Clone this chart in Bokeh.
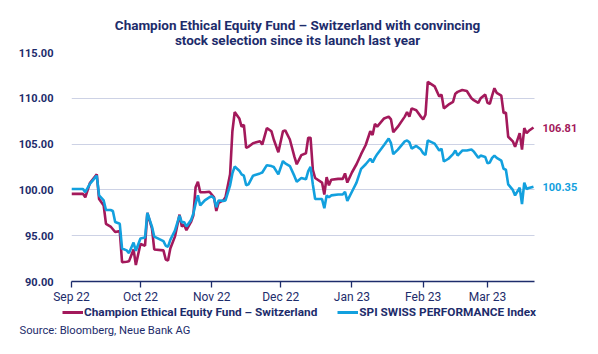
from datetime import datetime
import pandas as pd
from bokeh.plotting import figure
from bokeh.layouts import column
from bokeh.models import (Legend, LegendItem, Label, FixedTicker, DatetimeTickFormatter,
                          Range1d, NumeralTickFormatter, ColumnDataSource)
from bokeh.embed import file_html
from bokeh.resources import INLINE

dates = [
    "2022-09-01", "2022-09-06", "2022-09-07", "2022-09-09", "2022-09-12", "2022-09-13", "2022-09-15",
    "2022-09-16", "2022-09-18", "2022-09-19", "2022-09-20", "2022-09-22", "2022-09-23", "2022-09-25",
    "2022-09-26", "2022-09-28", "2022-09-29", "2022-10-01", "2022-10-03", "2022-10-04", "2022-10-06",
    "2022-10-07", "2022-10-11", "2022-10-12", "2022-10-13", "2022-10-14", "2022-10-16", "2022-10-18",
    "2022-10-19", "2022-10-20", "2022-10-21", "2022-10-23", "2022-10-24", "2022-10-25", "2022-10-26",
    "2022-10-27", "2022-10-29", "2022-10-31", "2022-11-01", "2022-11-02", "2022-11-03", "2022-11-04",
    "2022-11-06", "2022-11-07", "2022-11-09", "2022-11-10", "2022-11-11", "2022-11-13", "2022-11-14",
    "2022-11-15", "2022-11-16", "2022-11-17", "2022-11-19", "2022-11-22", "2022-11-23", "2022-11-25",
    "2022-11-27", "2022-11-28", "2022-11-30", "2022-12-02", "2022-12-03", "2022-12-05", "2022-12-07",
    "2022-12-08", "2022-12-10", "2022-12-12", "2022-12-13", "2022-12-14", "2022-12-15", "2022-12-16",
    "2022-12-19", "2022-12-20", "2022-12-21", "2022-12-22", "2022-12-23", "2022-12-26", "2022-12-28",
    "2022-12-29", "2022-12-30", "2023-01-01", "2023-01-03", "2023-01-05", "2023-01-07", "2023-01-09",
    "2023-01-10", "2023-01-11", "2023-01-12", "2023-01-15", "2023-01-17", "2023-01-18", "2023-01-19",
    "2023-01-21", "2023-01-24", "2023-01-25", "2023-01-26", "2023-01-27", "2023-01-29", "2023-01-31",
    "2023-02-01", "2023-02-02", "2023-02-03", "2023-02-06", "2023-02-08", "2023-02-09", "2023-02-10",
    "2023-02-12", "2023-02-14", "2023-02-15", "2023-02-16", "2023-02-18", "2023-02-20", "2023-02-22",
    "2023-02-23", "2023-02-25", "2023-02-26", "2023-02-28", "2023-03-01", "2023-03-02", "2023-03-03",
    "2023-03-04", "2023-03-05", "2023-03-07", "2023-03-08", "2023-03-09", "2023-03-10", "2023-03-12",
    "2023-03-13", "2023-03-15", "2023-03-16", "2023-03-17", "2023-03-18", "2023-03-19", "2023-03-21",
]

fund = [
    99.57, 99.57, 99.2, 100.75, 101.7, 99.0, 98.3,
    96.3, 96.0, 95.7, 95.4, 95.5, 92.1, 92.15,
    92.2, 93.5, 91.8, 94.1, 93.9, 97.5, 95.8,
    93.5, 93.4, 92.4, 92.3, 93.6, 94.9, 97.3,
    96.0, 96.2, 95.6, 96.5, 97.2, 100.3, 100.9,
    99.75, 99.75, 99.8, 99.5, 99.2, 97.7, 98.6,
    98.85, 99.2, 101.7, 106.4, 108.5, 107.8, 106.9,
    107.1, 104.6, 104.7, 105.1, 105.3, 104.95, 106.75,
    106.4, 105.5, 104.1, 106.4, 106.5, 105.5, 103.6,
    102.8, 103.8, 104.0, 105.7, 105.7, 102.2, 101.3,
    100.8, 99.5, 101.4, 100.5, 101.1, 101.2, 101.2,
    101.8, 100.8, 101.9, 102.8, 103.9, 104.9, 106.4,
    106.0, 107.2, 106.9, 107.8, 108.0, 107.7, 106.3,
    106.9, 108.0, 108.5, 108.0, 108.9, 108.7, 108.0,
    107.7, 108.2, 111.8, 111.3, 110.2, 110.4, 108.9,
    109.3, 109.6, 110.5, 110.7, 110.9, 110.8, 110.0,
    109.8, 109.5, 110.0, 110.4, 109.5, 109.4, 110.3,
    111.1, 110.6, 110.3, 108.4, 108.45, 105.8, 105.3,
    104.7, 106.2, 104.4, 106.75, 106.2, 106.45, 106.81,
]

index = [
    100.1, 100.1, 99.75, 100.65, 101.55, 99.4, 98.85,
    97.8, 97.8, 97.7, 96.5, 96.3, 93.6, 93.4,
    93.1, 94.25, 93.35, 94.7, 94.8, 97.5, 96.0,
    94.9, 94.4, 93.9, 93.8, 94.55, 95.55, 97.2,
    96.45, 96.5, 96.0, 96.7, 97.4, 98.5, 99.4,
    98.3, 98.85, 99.2, 99.3, 99.1, 98.1, 98.85,
    98.8, 98.85, 100.5, 101.8, 102.55, 102.1, 101.7,
    101.55, 100.5, 100.6, 101.55, 101.8, 101.9, 102.7,
    102.6, 102.5, 101.7, 103.15, 102.9, 102.6, 101.5,
    100.9, 101.3, 101.15, 102.05, 102.5, 100.6, 99.0,
    99.0, 98.0, 99.4, 99.2, 99.4, 99.5, 99.5,
    99.8, 98.8, 99.8, 100.8, 102.3, 102.8, 103.4,
    103.0, 103.5, 103.9, 104.9, 105.6, 105.1, 103.9,
    104.4, 105.3, 105.4, 105.2, 104.5, 104.8, 104.4,
    104.0, 103.8, 105.4, 105.05, 104.3, 104.5, 103.1,
    103.4, 103.9, 104.3, 103.75, 104.3, 104.3, 104.4,
    104.2, 103.5, 103.75, 103.6, 102.9, 103.0, 103.5,
    103.75, 103.5, 103.2, 102.3, 102.2, 100.6, 100.0,
    99.4, 100.25, 98.45, 100.8, 100.1, 100.2, 100.35,
]

month_ticks = ["2022-09-01", "2022-10-01", "2022-11-01", "2022-12-01",
               "2023-01-01", "2023-02-01", "2023-03-01"]
y_ticks = [90, 95, 100, 105, 110, 115]

series_names = ["Champion Ethical Equity Fund – Switzerland", "SPI SWISS PERFORMANCE Index"]
title_lines = ["Champion Ethical Equity Fund – Switzerland with convincing",
               "stock selection since its launch last year"]
source_text = "Source: Bloomberg, Neue Bank AG"

assert len(dates) == len(fund) == len(index)

NAVY = "#1d2c6b"
RED = "#a3195b"
BLUE = "#12a0de"
GRID = "#cdd2e5"
FONT = "Roboto"
W = 598
H_HEAD = 47
H_MAIN = 259
H_FOOT = 48


def ms(d):
    return pd.Timestamp(d).value / 1e6


def blank_figure(h):
    fig = figure(width=W, height=h, output_backend="svg", toolbar_location=None,
                 x_range=Range1d(0, W), y_range=Range1d(0, h),
                 x_axis_location=None, y_axis_location=None,
                 min_border=0, min_border_left=0, min_border_right=0,
                 min_border_top=0, min_border_bottom=0)
    fig.frame_align = False
    fig.outline_line_color = None
    fig.xgrid.visible = False
    fig.ygrid.visible = False
    fig.title.visible = False
    return fig


axis_start = datetime(2022, 9, 1)
axis_end = datetime(2023, 3, 21, 10)
view_end = datetime(2023, 4, 17, 10)

src = ColumnDataSource(dict(date=pd.to_datetime(dates), fund=fund, index=index))

# ---------------- header: two centred title lines ----------------
h = blank_figure(H_HEAD)
for txt, yy in ((title_lines[0], H_HEAD - 24), (title_lines[1], H_HEAD - 39.5)):
    h.add_layout(Label(x=297, y=yy, text=txt, text_align="center", text_baseline="middle",
                       text_font=FONT, text_font_size="13.5px", text_font_style="bold",
                       text_color=NAVY))

# ---------------- main chart ----------------
p = figure(width=W, height=H_MAIN, x_axis_type="datetime",
           output_backend="svg", toolbar_location=None,
           x_range=Range1d(axis_start, view_end),
           y_range=Range1d(90, 115),
           min_border_left=71, min_border_right=2, min_border_top=5, min_border_bottom=22)
p.frame_align = False
p.title.visible = False
p.outline_line_color = None
p.background_fill_color = "white"

r1 = p.line("date", "fund", source=src, line_color=RED, line_width=2.6)
r2 = p.line("date", "index", source=src, line_color=BLUE, line_width=2.6)

# y axis
p.yaxis.ticker = FixedTicker(ticks=y_ticks)
p.yaxis.formatter = NumeralTickFormatter(format="0.00")
p.yaxis.axis_line_color = None
p.yaxis.major_tick_line_color = None
p.yaxis.minor_tick_line_color = None
p.yaxis.major_label_standoff = 12
p.yaxis.major_label_text_font = FONT
p.yaxis.major_label_text_font_style = "bold"
p.yaxis.major_label_text_font_size = "11px"
p.yaxis.major_label_text_color = NAVY

# x axis
p.xaxis.ticker = FixedTicker(ticks=[ms(t) for t in month_ticks])
fmt = "%b %y"
p.xaxis.formatter = DatetimeTickFormatter(days=fmt, months=fmt, years=fmt, hours=fmt)
p.xaxis.bounds = (ms(axis_start), ms(axis_end))
p.xaxis.axis_line_color = NAVY
p.xaxis.axis_line_width = 1.5
p.xaxis.major_tick_line_color = NAVY
p.xaxis.major_tick_line_width = 1.3
p.xaxis.major_tick_in = 0
p.xaxis.major_tick_out = 6
p.xaxis.minor_tick_line_color = None
p.xaxis.major_label_standoff = 2
p.xaxis.major_label_text_font = FONT
p.xaxis.major_label_text_font_size = "12px"
p.xaxis.major_label_text_color = NAVY

p.xgrid.grid_line_color = None
p.ygrid.grid_line_color = GRID
p.ygrid.grid_line_width = 1
p.ygrid.cross_bounds = (ms(axis_start), ms(axis_end))

# end labels
last_x = ms(dates[-1])
for val, col in ((fund[-1], RED), (index[-1], BLUE)):
    p.add_layout(Label(x=last_x, y=val, x_offset=9, text=f"{val:.2f}",
                       text_baseline="middle", text_color=col, text_font=FONT,
                       text_font_style="bold", text_font_size="11px"))

# ---------------- footer: legend + source ----------------
f = blank_figure(H_FOOT)
# legend keys: same styling as the chart lines, placed outside the visible range
k1 = f.line(x=[-100, -90], y=[-100, -100], line_color=RED, line_width=3)
k2 = f.line(x=[-100, -90], y=[-100, -100], line_color=BLUE, line_width=3)

legend = Legend(items=[LegendItem(label=series_names[0], renderers=[k1]),
                       LegendItem(label=series_names[1], renderers=[k2])],
                orientation="horizontal", location=(62, 35),
                glyph_width=21, glyph_height=10, label_height=10,
                label_standoff=1, spacing=20, padding=0, margin=0,
                border_line_color=None, background_fill_alpha=0,
                label_text_font=FONT, label_text_font_style="bold",
                label_text_font_size="11.8px", label_text_color=NAVY)
f.add_layout(legend, "center")

f.add_layout(Label(x=19, y=H_FOOT - 24, text=source_text, text_baseline="middle",
                   text_font=FONT, text_font_size="11.2px", text_color=NAVY))

page = column(h, p, f, spacing=0)
open("out.html", "w").write(file_html(page, INLINE))
